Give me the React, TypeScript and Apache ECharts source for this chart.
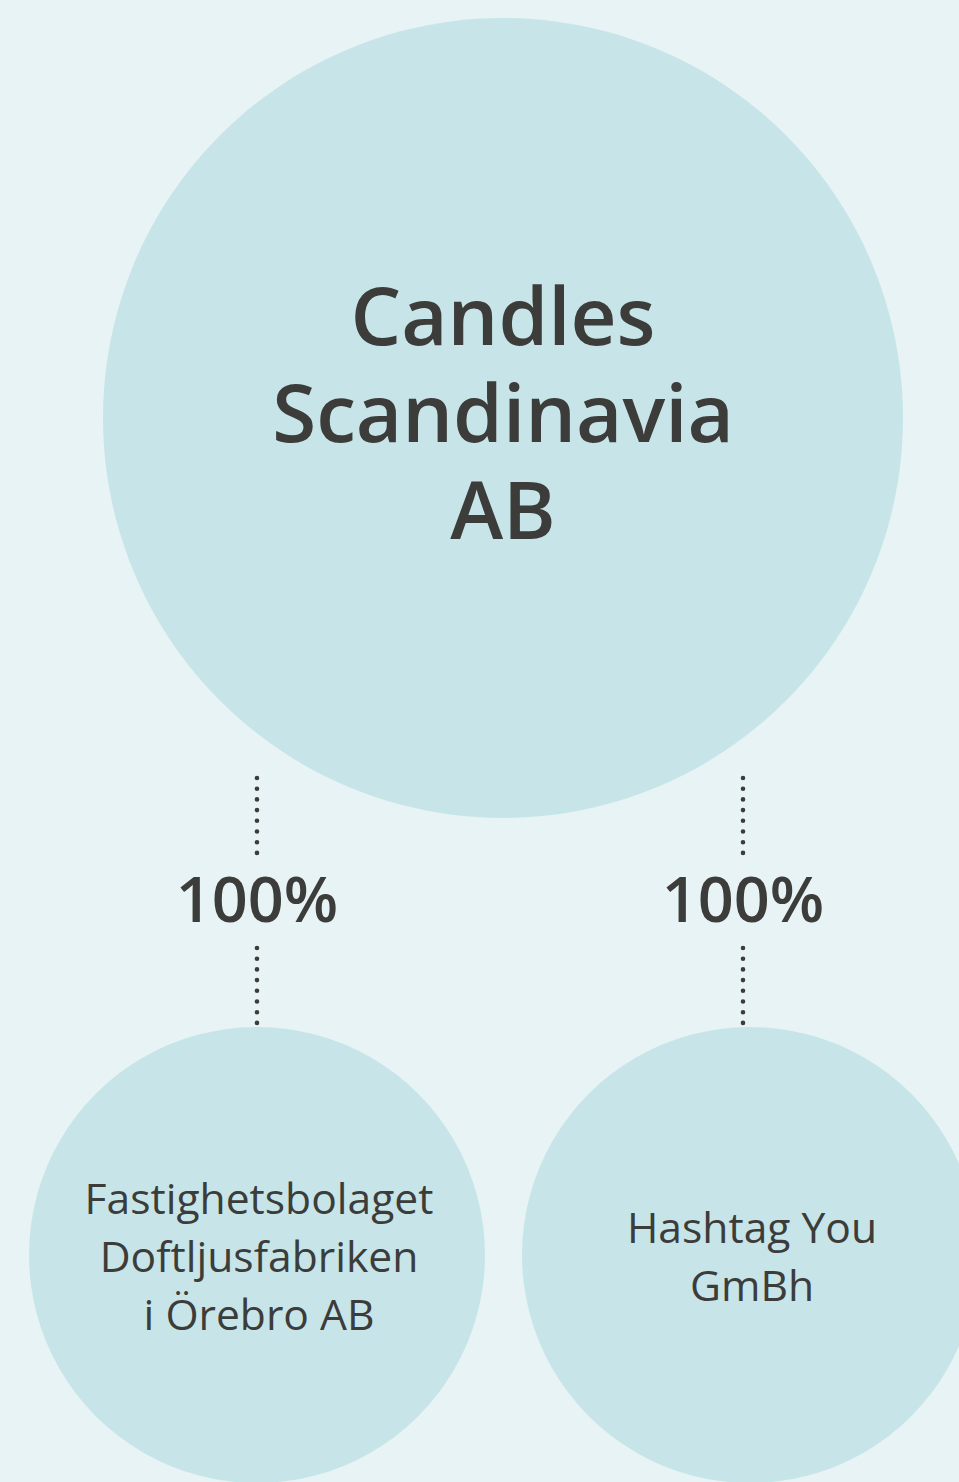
import React, { useEffect, useRef } from "react";
import * as echarts from "echarts";

const companyNames = [
  "Candles\nScandinavia\nAB",
  "Fastighetsbolaget\nDoftljusfabriken\ni Örebro AB",
  "Hashtag You\nGmBh",
];
const companyX = [503, 257, 750];
const companyY = [418, 1255, 1255];
const companyDiameter = [800, 456, 456];

const ownershipShare = [100, 100];
const ownershipX = [257, 743];
const ownershipLabelY = 897;
const linkTopSegment = [778, 853];
const linkBottomSegment = [948, 1023];

const BG = "#e7f3f4";
const CIRCLE = "#c7e5e8";
const TEXT = "#3c3c3a";
const FONT = "'Open Sans', 'Noto Sans', sans-serif";

export default function App() {
  const ref = useRef<HTMLDivElement>(null);
  useEffect(() => {
    document.body.style.margin = "0";
    const chart = echarts.init(ref.current!, null, { renderer: "svg" });

    const circleData = companyNames.map((name, i) => ({
      value: [companyX[i], companyY[i]],
      symbolSize: companyDiameter[i],
      label: {
        show: true,
        position: "inside",
        formatter: name,
        color: TEXT,
        fontFamily: FONT,
        fontSize: i === 0 ? 80 : 42.6,
        fontWeight: i === 0 ? 600 : 400,
        lineHeight: i === 0 ? 97 : 58,
        align: "center",
        verticalAlign: "middle",
        offset: i === 0 ? [0, -8] : [2, 0],
      },
    }));

    const linkSeries: any[] = [];
    ownershipX.forEach((x) => {
      [linkTopSegment, linkBottomSegment].forEach((seg) => {
        linkSeries.push({
          type: "line",
          data: [
            [x, seg[0]],
            [x, seg[1]],
          ],
          symbol: "none",
          silent: true,
          lineStyle: {
            color: TEXT,
            width: 4.6,
            opacity: 1,
            type: [0, 10.7],
            cap: "round",
          },
        });
      });
    });

    chart.setOption({
      animation: false,
      backgroundColor: BG,
      grid: { left: 0, right: 0, top: 0, bottom: 0 },
      xAxis: { type: "value", min: 0, max: 959, show: false },
      yAxis: { type: "value", min: 0, max: 1482, inverse: true, show: false },
      series: [
        {
          type: "scatter",
          data: circleData,
          itemStyle: { color: CIRCLE, opacity: 1 },
          silent: true,
        },
        ...linkSeries,
        {
          type: "scatter",
          symbolSize: 1,
          silent: true,
          itemStyle: { color: BG, opacity: 1 },
          data: ownershipShare.map((v, i) => [ownershipX[i], ownershipLabelY, v]),
          label: {
            show: true,
            position: "inside",
            formatter: (p: any) => p.value[2] + "%",
            color: TEXT,
            opacity: 1,
            fontFamily: FONT,
            fontSize: 63,
            fontWeight: 600,
          },
        },
      ],
    });
    return () => chart.dispose();
  }, []);
  return <div ref={ref} style={{ width: 959, height: 1482 }} />;
}
